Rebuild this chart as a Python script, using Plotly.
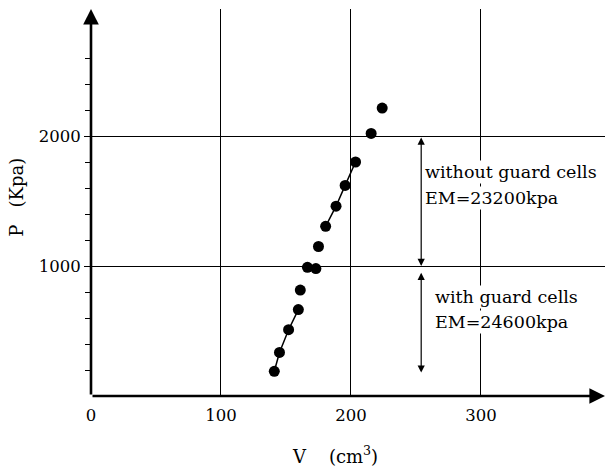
import plotly.graph_objects as go

# Data
V = [141, 145, 152, 159.5, 161, 166.5, 173, 175, 180.5, 188.5, 195.5, 203.5, 215.5, 224]
P = [190, 335, 510, 665, 815, 990, 980, 1150, 1305, 1460, 1620, 1800, 2020, 2215]
low_fit = [0, 1, 2, 3]
high_fit = [8, 9, 10, 11]
x_ticks = [0, 100, 200, 300]
x_ticklabels = ["0", "100", "200", "300"]
y_ticks = [1000, 2000]
y_ticklabels = ["1000", "2000"]
y_minor = [200, 400, 600, 800, 1200, 1400, 1600, 1800, 2200, 2400, 2600]
labels_without = ["without guard cells", "EM=23200kpa"]
labels_with = ["with guard cells", "EM=24600kpa"]

FONT = "DejaVu Serif"
XMAX = 395.4
YMAX = 2977

fig = go.Figure()
for idx in (low_fit, high_fit):
    fig.add_trace(go.Scatter(x=[V[i] for i in idx], y=[P[i] for i in idx], mode="lines",
                             line=dict(color="black", width=1.5), hoverinfo="skip"))
fig.add_trace(go.Scatter(x=V, y=P, mode="markers",
                         marker=dict(color="black", size=11)))

ann = []
# text labels (white background interrupts the grid line)
ann.append(dict(x=255.5, y=1723, text=labels_without[0]))
ann.append(dict(x=255.5, y=1523, text=labels_without[1]))
ann.append(dict(x=263, y=762, text=labels_with[0]))
ann.append(dict(x=263, y=569, text=labels_with[1]))
for a in ann:
    a.update(xref="x", yref="y", showarrow=False, xanchor="left", yanchor="middle",
             bgcolor="white", borderpad=1, font=dict(family=FONT, size=17.5, color="black"))

# double arrows
ann.append(dict(x=254, y=1000, ax=254, ay=2000, xref="x", yref="y", axref="x", ayref="y",
                showarrow=True, arrowside="end+start", arrowhead=2, startarrowhead=2,
                arrowsize=1.2, startarrowsize=1.2, arrowwidth=1.2, arrowcolor="black", text=""))
ann.append(dict(x=254, y=180, ax=254, ay=960, xref="x", yref="y", axref="x", ayref="y",
                showarrow=True, arrowside="end+start", arrowhead=2, startarrowhead=2,
                arrowsize=1.2, startarrowsize=1.2, arrowwidth=1.2, arrowcolor="black", text=""))
# axes with arrowheads
ann.append(dict(x=XMAX, y=0, ax=0, ay=0, xref="x", yref="y", axref="x", ayref="y",
                showarrow=True, arrowhead=2, arrowsize=1.2, arrowwidth=2.6, arrowcolor="black", text=""))
ann.append(dict(x=0, y=YMAX, ax=0, ay=0, xref="x", yref="y", axref="x", ayref="y",
                showarrow=True, arrowhead=2, arrowsize=1.2, arrowwidth=2.6, arrowcolor="black", text=""))
# axis titles (paper coordinates so they are drawn outside the plot area)
ann.append(dict(x=0.475, y=-0.152, xref="paper", yref="paper", showarrow=False,
                xanchor="center", yanchor="middle",
                text="V\u00a0\u00a0\u00a0\u00a0(cm<sup>3</sup>)",
                font=dict(family=FONT, size=18, color="black")))
ann.append(dict(x=-0.144, y=0.515, xref="paper", yref="paper", showarrow=False,
                xanchor="center", yanchor="middle", textangle=-90,
                text="P\u00a0\u00a0\u00a0(Kpa)", font=dict(family=FONT, size=18, color="black")))

fig.update_layout(
    width=609, height=468, showlegend=False,
    margin=dict(l=91, r=4, t=9, b=72),
    plot_bgcolor="white", paper_bgcolor="white",
    annotations=ann,
    xaxis=dict(range=[0, XMAX], tickmode="array", tickvals=x_ticks, ticktext=x_ticklabels,
               showgrid=True, gridcolor="black", gridwidth=1.2, zeroline=False, showline=False,
               ticks="", ticklabelstandoff=7, tickfont=dict(family=FONT, size=16.5, color="black")),
    yaxis=dict(range=[0, YMAX], tickmode="array", tickvals=y_ticks, ticktext=y_ticklabels,
               showgrid=True, gridcolor="black", gridwidth=1.2, zeroline=False, showline=False,
               ticks="outside", ticklen=6, tickwidth=1.2, tickcolor="black",
               tickfont=dict(family=FONT, size=16.5, color="black"),
               minor=dict(tickmode="array", tickvals=y_minor, ticks="outside", ticklen=5,
                          tickwidth=1.2, tickcolor="black", showgrid=False)),
)

fig.write_html("out.html")
